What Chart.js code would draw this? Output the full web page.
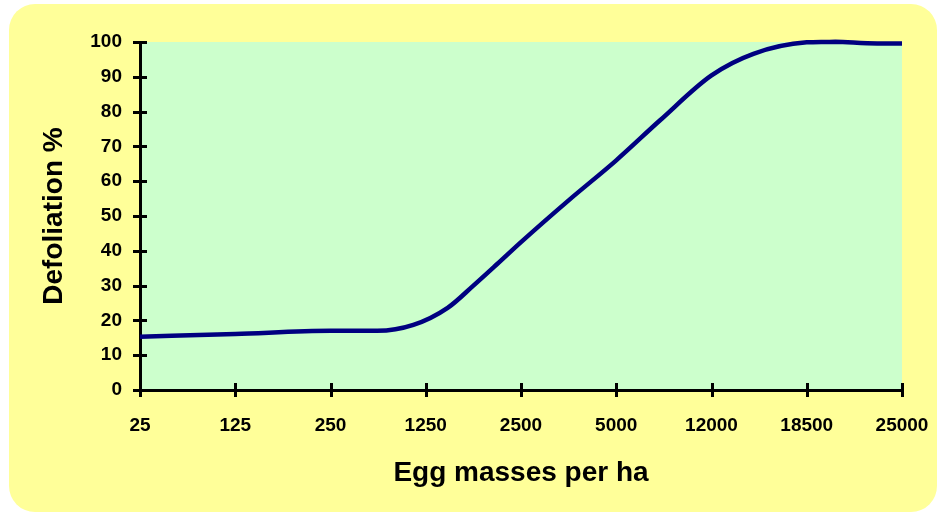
<!DOCTYPE html>
<html>
<head>
<meta charset="utf-8">
<script src="https://cdn.jsdelivr.net/npm/chart.js@4.4.1/dist/chart.umd.min.js"></script>
<style>
  html, body { margin: 0; padding: 0; background: #ffffff; }
  #wrap { width: 940px; height: 514px; position: relative; }
</style>
</head>
<body>
<div id="wrap"><canvas id="chart" width="940" height="514"></canvas></div>
<script>
// Egg-mass density classes shown along the horizontal axis
const categories = ['25', '125', '250', '1250', '2500', '5000', '12000', '18500', '25000'];
// Curve points: position along the class axis (0 = first class) and defoliation %
const curvePos   = [0, 1, 2, 2.49, 2.87, 3.23, 3.5, 3.75, 4, 4.5, 5, 5.46, 6, 6.44, 7, 7.3, 7.74, 8];
const defoliation = [15.3, 16.1, 17.0, 17.0, 18.7, 23.6, 30, 36.2, 42.5, 54.5, 66, 77.5, 90.4, 96.6, 99.9, 100.1, 99.6, 99.6];
const yTicks = [0, 10, 20, 30, 40, 50, 60, 70, 80, 90, 100];

const points = curvePos.map((p, i) => ({ x: p, y: defoliation[i] }));

const FONT = "'Liberation Sans', Arial, sans-serif";

// Rounded yellow panel behind everything, green plot area
const backdrop = {
  id: 'backdrop',
  beforeDraw(chart) {
    const { ctx, chartArea: a } = chart;
    ctx.save();
    ctx.fillStyle = '#FFFF99';
    ctx.beginPath();
    ctx.roundRect(9, 4, 928, 508, 26);
    ctx.fill();
    ctx.fillStyle = '#CCFFCC';
    ctx.fillRect(a.left, a.top, a.right - a.left, a.bottom - a.top);
    ctx.restore();
  }
};

// Tick marks that cross the axis lines on both sides
const crossTicks = {
  id: 'crossTicks',
  afterDraw(chart) {
    const { ctx, scales: { x, y }, chartArea: a } = chart;
    ctx.save();
    ctx.strokeStyle = '#000000';
    ctx.lineWidth = 3;
    ctx.beginPath();
    yTicks.forEach(v => {
      const py = Math.round(y.getPixelForValue(v)) + 0.5;
      ctx.moveTo(a.left - 7, py);
      ctx.lineTo(a.left + 7, py);
    });
    categories.forEach((c, i) => {
      const px = Math.round(x.getPixelForValue(i)) + 0.5;
      ctx.moveTo(px, a.bottom - 7);
      ctx.lineTo(px, a.bottom + 7);
    });
    ctx.stroke();
    ctx.restore();
  }
};

new Chart(document.getElementById('chart'), {
  type: 'line',
  data: {
    datasets: [{
      data: points,
      borderColor: '#000080',
      borderWidth: 4.5,
      pointRadius: 0,
      cubicInterpolationMode: 'monotone',
      fill: false,
      clip: false
    }]
  },
  options: {
    responsive: false,
    animation: false,
    devicePixelRatio: 1,
    layout: { padding: { top: 42, right: 38, bottom: 0, left: 0 } },
    plugins: { legend: { display: false }, tooltip: { enabled: false } },
    scales: {
      x: {
        type: 'linear',
        min: 0,
        max: 8,
        afterFit(scale) { scale.height = 124; scale.paddingLeft = 0; scale.paddingRight = 0; },
        afterBuildTicks(scale) { scale.ticks = categories.map((c, i) => ({ value: i })); },
        ticks: {
          autoSkip: false,
          maxRotation: 0,
          padding: 24,
          color: '#000000',
          font: { family: FONT, size: 19, weight: 'bold' },
          callback: (v) => categories[v]
        },
        grid: { display: true, drawOnChartArea: false, drawTicks: false, color: 'rgba(0,0,0,0)' },
        border: { display: true, color: '#000000', width: 3 },
        title: {
          display: true,
          text: 'Egg masses per ha',
          color: '#000000',
          font: { family: FONT, size: 28, weight: 'bold' },
          padding: { top: 0, bottom: 24 }
        }
      },
      y: {
        min: 0,
        max: 100,
        afterFit(scale) { scale.width = 140; },
        afterBuildTicks(scale) { scale.ticks = yTicks.map(v => ({ value: v })); },
        ticks: {
          padding: 18,
          color: '#000000',
          font: { family: FONT, size: 19, weight: 'bold' }
        },
        grid: { display: true, drawOnChartArea: false, drawTicks: false, color: 'rgba(0,0,0,0)' },
        border: { display: true, color: '#000000', width: 3 },
        title: {
          display: true,
          text: 'Defoliation %',
          color: '#000000',
          font: { family: FONT, size: 28, weight: 'bold' },
          padding: { top: 37, bottom: 0 }
        }
      }
    }
  },
  plugins: [backdrop, crossTicks]
});
</script>
</body>
</html>
